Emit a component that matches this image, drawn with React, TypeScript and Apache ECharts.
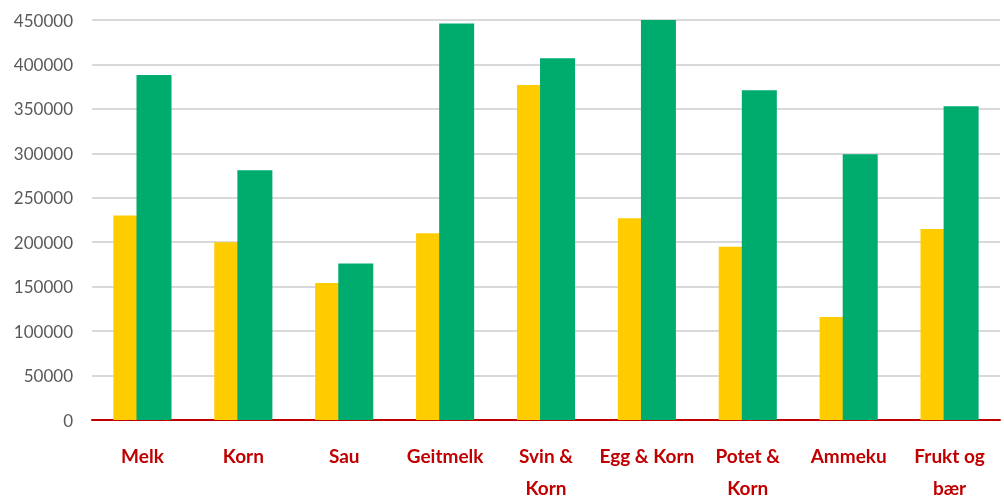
import React, { useEffect, useRef } from "react";
import * as echarts from "echarts";

const categories = ["Melk", "Korn", "Sau", "Geitmelk", "Svin &\nKorn", "Egg & Korn", "Potet &\nKorn", "Ammeku", "Frukt og\nbær"];
const yellowValues = [230000, 200000, 154000, 210000, 377000, 227000, 195000, 116000, 215000];
const greenValues = [388000, 281000, 176000, 446000, 407000, 450000, 371000, 299000, 353000];

export default function App() {
  const ref = useRef<HTMLDivElement>(null);
  useEffect(() => {
    if (!ref.current) return;
    const chart = echarts.init(ref.current, null, { renderer: "svg" });
    chart.setOption({
      animation: false,
      grid: { left: 92, right: 4, top: 20, bottom: 79, outerBoundsMode: "none", containLabel: false },
      xAxis: {
        type: "category",
        data: categories,
        axisLine: { lineStyle: { color: "#C00000", width: 2 } },
        axisTick: { show: false },
        axisLabel: {
          color: "#C00000",
          fontFamily: "Lato",
          fontWeight: "bold",
          fontSize: 19,
          margin: 19,
          lineHeight: 32,
          interval: 0,
        },
      },
      yAxis: {
        type: "value",
        min: 0,
        max: 450000,
        interval: 50000,
        axisLine: { show: false },
        axisTick: { show: false },
        splitLine: { lineStyle: { color: "#D9D9D9", width: 2 } },
        axisLabel: {
          color: "#595959",
          fontFamily: "Lato",
          fontSize: 17,
          margin: 19,
          formatter: (v: number) => String(v),
        },
      },
      series: [
        {
          type: "bar",
          data: yellowValues,
          barWidth: 35,
          barGap: "-34%",
          itemStyle: { color: "#FFCC00" },
        },
        {
          type: "bar",
          data: greenValues,
          barWidth: 35,
          itemStyle: { color: "#00AB6E" },
        },
      ],
    });
    return () => chart.dispose();
  }, []);
  return <div ref={ref} style={{ position: "fixed", left: 0, top: 0, width: 1004, height: 499 }} />;
}
